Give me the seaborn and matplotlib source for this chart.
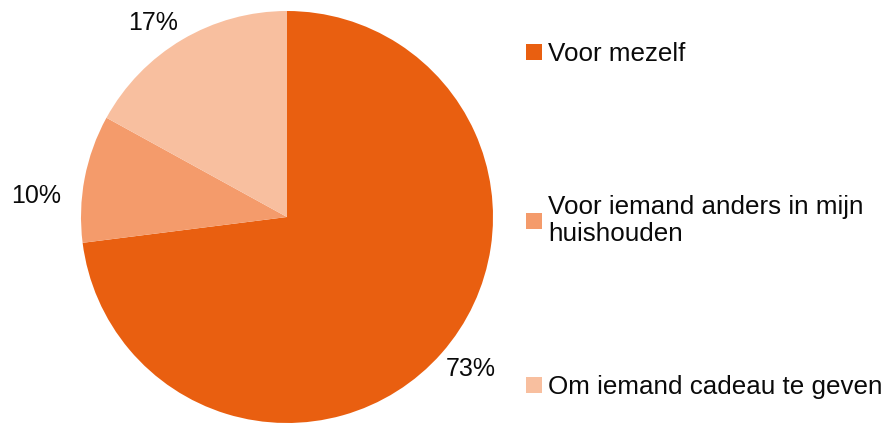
import matplotlib
matplotlib.use("Agg")
import matplotlib.pyplot as plt
import seaborn as sns

# data
categories = ["Voor mezelf", "Voor iemand anders in mijn\nhuishouden", "Om iemand cadeau te geven"]
shares = [73, 10, 17]
colors = sns.color_palette(["#E95F10", "#F49B6B", "#F8BF9F"])

sns.set_style("white")
plt.rcParams["font.family"] = ["Liberation Sans", "DejaVu Sans"]
plt.rcParams["text.color"] = "#0a0a0a"

fig = plt.figure(figsize=(8.92, 4.23), dpi=100)
ax = fig.add_axes([81 / 892, 0.0, 412 / 892, 412 / 423])

wedges, texts, autotexts = ax.pie(
    shares, colors=colors, startangle=90, counterclock=False,
    autopct="%d%%", pctdistance=1.17,
    textprops={"fontsize": 18, "color": "#0a0a0a"},
    wedgeprops={"linewidth": 0},
)
# label placement like the original (outside end, shifted a bit)
autotexts[0].set_position((0.89, -0.74))
autotexts[1].set_position((-1.22, 0.10))
autotexts[2].set_position((-0.65, 0.94))

ax.set_xlim(-1, 1)
ax.set_ylim(-1, 1)
ax.set_aspect("equal")
ax.axis("off")

fig.legend(wedges, categories, loc="upper left", bbox_to_anchor=(526 / 892, 1 - 42 / 423),
           frameon=False, fontsize=18.7, labelspacing=4.95, handlelength=0.6,
           handleheight=0.6, handletextpad=0.25, borderpad=0, borderaxespad=0,
           labelcolor="#0a0a0a")

fig.savefig("out.png", dpi=100)
